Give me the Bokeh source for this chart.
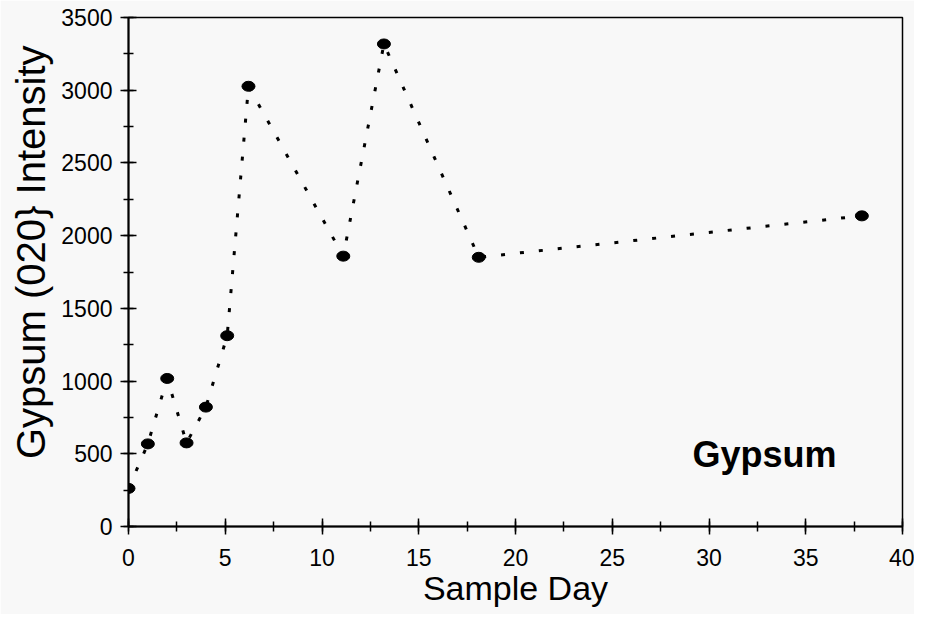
from bokeh.plotting import figure
from bokeh.models import Range1d, SingleIntervalTicker, Label, Title
from bokeh.embed import file_html
from bokeh.resources import INLINE

# Data
sample_day = [0, 1, 2, 3, 4, 5.1, 6.2, 11.1, 13.2, 18.1, 37.9]
intensity = [262, 568, 1018, 575, 821, 1312, 3027, 1859, 3318, 1851, 2136]
x_ticks_interval = 5
y_ticks_interval = 500
y_title = "Gypsum (020} Intensity"
x_title = "Sample Day"

FONT = "Liberation Sans"
BG = "#f8f8f8"

p = figure(width=914, height=614, output_backend="svg", toolbar_location=None,
           x_range=Range1d(0, 40), y_range=Range1d(0, 3500),
           min_border_left=128, min_border_top=17, min_border_right=12,
           min_border_bottom=88)
p.background_fill_color = BG
p.border_fill_color = BG
p.grid.visible = False
p.outline_line_color = "black"
p.outline_line_width = 1.5

p.xaxis.ticker = SingleIntervalTicker(interval=x_ticks_interval, num_minor_ticks=2)
p.yaxis.ticker = SingleIntervalTicker(interval=y_ticks_interval, num_minor_ticks=2)

for ax in (p.xaxis, p.yaxis):
    ax.axis_line_width = 2
    ax.axis_line_color = "black"
    ax.major_tick_in = 8
    ax.major_tick_out = 8
    ax.minor_tick_in = 5
    ax.minor_tick_out = 5
    ax.major_tick_line_width = 1.5
    ax.minor_tick_line_width = 1.5
    ax.major_tick_line_color = "black"
    ax.minor_tick_line_color = "black"
    ax.major_label_text_font = FONT
    ax.major_label_text_font_size = "23px"
    ax.major_label_text_color = "black"
    ax.axis_label_text_font = FONT
    ax.axis_label_text_font_style = "normal"
    ax.axis_label_text_color = "black"

p.xaxis.axis_label = x_title
p.xaxis.axis_label_text_font_size = "34px"
p.xaxis.axis_label_standoff = 0
p.xaxis.major_label_standoff = 14

p.yaxis.major_label_standoff = 8

p.add_layout(Title(text=y_title, text_font=FONT,
                   text_font_size="40px", text_font_style="normal",
                   text_color="black", align="right", offset=28,
                   standoff=12), "left")

p.line(sample_day, intensity, line_color="black", line_width=3,
       line_dash="4 15")
p.ellipse(x=sample_day, y=intensity, width=13, height=10,
          width_units="screen", height_units="screen",
          fill_color="black", line_color="black")

p.add_layout(Label(x=29.15, y=495, text="Gypsum", text_font=FONT,
                   text_font_size="36px", text_font_style="bold",
                   text_baseline="alphabetic", text_color="black"))

open("out.html", "w").write(file_html(p, INLINE))
